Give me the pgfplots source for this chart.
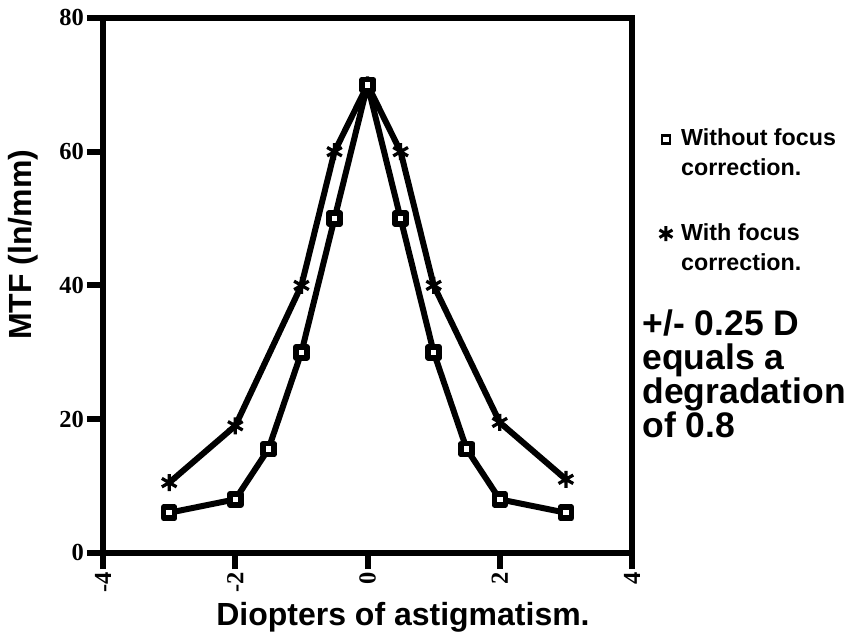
\documentclass[border=0pt]{standalone}
\usepackage{pgfplots}
\pgfplotsset{compat=1.18}
\usepackage{fontspec}
\setmainfont{Liberation Sans}
\newfontfamily\serifnum{Liberation Serif}
\usetikzlibrary{plotmarks}

\begin{document}
\begin{tikzpicture}
\begin{axis}[
    scale only axis,
    width=211.6pt, height=214pt,
    xmin=-4, xmax=4, ymin=0, ymax=80,
    xtick={-4,-2,0,2,4},
    xticklabels={-4,-2,0,2,4},
    ytick={0,20,40,60,80},
    yticklabels={0,20,40,60,80},
    tick align=outside,
    xtick pos=bottom, ytick pos=left,
    major tick length=6.5pt,
    every tick/.style={black, line width=2.4pt},
    axis line style={line width=2.6pt},
    ticklabel style={font=\serifnum\bfseries\fontsize{9.8}{10}\selectfont},
    xticklabel style={rotate=90, anchor=east, inner sep=1pt},
    yticklabel style={inner sep=1pt},
    xlabel={Diopters of astigmatism.},
    ylabel={MTF (ln/mm)},
    label style={font=\bfseries\fontsize{12.8}{14}\selectfont},
    xlabel style={at={(axis description cs:0.567,-0.135)}, anchor=base},
    ylabel style={at={(axis description cs:-0.151,0.576)}, anchor=center},
    clip=false,
    legend cell align=left,
    legend style={draw=none, fill=none, at={(axis description cs:1.051,0.803)},
        anchor=north west, inner sep=0pt, row sep=13.6pt, column sep=1.5pt,
        font=\bfseries\fontsize{9.3}{12}\selectfont,
        cells={align=left}},
    legend image code/.code={\draw[#1] plot coordinates {(0cm,6pt)};},
]
% with focus correction (stars)
\addplot[black, line width=2.4pt, line join=round, mark=asterisk, mark size=3.4pt,
    mark options={line width=1.3pt}, forget plot] coordinates {
    (-3,10.5) (-2,19) (-1,40) (-0.5,60) (0,70) (0.5,60) (1,40) (2,19.5) (3,11)
};
% without focus correction (squares)
\addplot[black, line width=2.4pt, line join=round, mark=square*, mark size=2.2pt,
    mark options={fill=white, line width=2.2pt}, forget plot] coordinates {
    (-3,6) (-2,8) (-1.5,15.5) (-1,30) (-0.5,50) (0,70) (0.5,50) (1,30) (1.5,15.5) (2,8) (3,6)
};
\addlegendimage{only marks, black, mark=square*, mark size=1.6pt, mark options={fill=white, line width=1.1pt}}
\addlegendentry{Without focus\\correction.}
\addlegendimage{only marks, black, mark=asterisk, mark size=3pt, mark options={line width=1.2pt}}
\addlegendentry{With focus\\correction.}

\node[anchor=north west, align=left, inner sep=0pt,
    font=\bfseries\fontsize{14.2}{13.6}\selectfont]
    at (axis description cs:1.019,0.455)
    {+/- 0.25 D\\equals a\\degradation\\of 0.8};

\path (axis description cs:-0.1947,1.0336) rectangle (axis description cs:1.4216,-0.1645);
\end{axis}
\end{tikzpicture}
\end{document}
